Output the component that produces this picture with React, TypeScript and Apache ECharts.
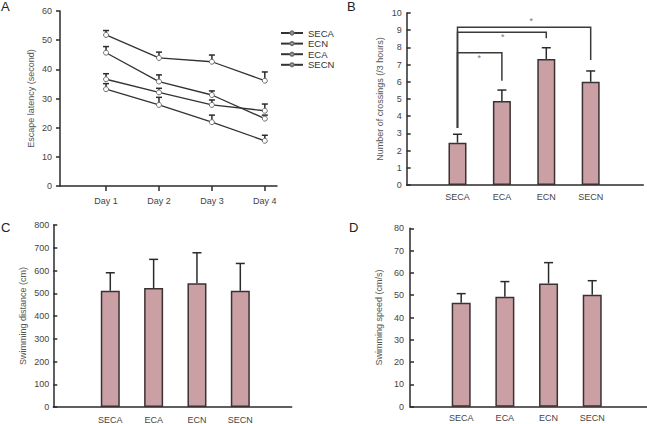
import React, { useEffect, useRef } from "react";
import * as echarts from "echarts";

// ---------- data ----------
const days = ["Day 1", "Day 2", "Day 3", "Day 4"];
const latencyGroups = ["SECA", "ECN", "ECA", "SECN"];
const latSECA = [51.8, 43.9, 42.6, 36.1];
const latSECAErr = [1.5, 2.0, 2.3, 3.0];
const latECN = [45.7, 35.8, 31.2, 23.1];
const latECNErr = [2.1, 2.3, 1.4, 1.2];
const latECA = [36.6, 32.1, 27.8, 25.8];
const latECAErr = [1.9, 1.4, 1.7, 2.3];
const latSECN = [33.2, 27.8, 21.9, 15.5];
const latSECNErr = [1.9, 2.6, 2.4, 1.9];

const groups = ["SECA", "ECA", "ECN", "SECN"];
const crossings = [2.46, 4.88, 7.33, 6.0];
const crossingsErr = [0.49, 0.64, 0.65, 0.63];
const distance = [511, 523, 544, 511];
const distanceErr = [79, 126, 134, 120];
const speed = [46.6, 49.3, 55.3, 50.2];
const speedErr = [4.1, 6.8, 9.3, 6.3];

// significance brackets in panel B (value units)
const bracketFrom = [1, 1, 1];
const bracketTo = [2, 3, 4];
const bracketLevel = [7.69, 8.88, 9.17];
const bracketDropEnd = [6.06, 8.53, 7.27];
const bracketStart = 3.31;
const starX = [1.49, 2.02, 2.66];
const starY = [7.4, 8.59, 9.53];

const FONT = "'Liberation Sans', Arial, Helvetica, sans-serif";
const AXIS_COLOR = "#2b2b2b";
const LABEL_COLOR = "#444";
const BAR_COLOR = "#cba0a5";

export default function App() {
  const ref = useRef<HTMLDivElement>(null);

  useEffect(() => {
    if (!ref.current) return;
    const chart = echarts.init(ref.current, undefined, { renderer: "svg" });

    const axisLine = { show: true, onZero: false, lineStyle: { color: AXIS_COLOR, width: 1.5 } };
    const tickLabel = { fontSize: 9, color: LABEL_COLOR, fontFamily: FONT };
    const nameStyle = { fontSize: 9, color: "#555", fontFamily: FONT };

    const yAxisBase = (grid: number, max: number, interval: number, name: string, gap: number, inside: boolean, margin: number) => ({
      gridIndex: grid,
      type: "value",
      min: 0,
      max,
      interval,
      axisLine,
      axisTick: { show: true, inside, length: 4, lineStyle: { color: AXIS_COLOR, width: 1.5 } },
      axisLabel: { ...tickLabel, margin },
      splitLine: { show: false },
      name,
      nameLocation: "middle",
      nameGap: gap,
      nameTextStyle: nameStyle,
    });

    const xAxisGroups = (grid: number, min: number, max: number, margin: number) => ({
      gridIndex: grid,
      type: "value",
      min,
      max,
      axisLine,
      axisTick: { show: false },
      splitLine: { show: false },
      axisLabel: {
        ...tickLabel,
        margin,
        customValues: [1, 2, 3, 4],
        formatter: (v: number) => groups[Math.round(v) - 1] ?? "",
      },
    });

    const errRender = (cap: number) => (params: any, api: any) => {
      const x = api.value(0);
      const v = api.value(1);
      const e = api.value(2);
      const p0 = api.coord([x, v]);
      const p1 = api.coord([x, v + e]);
      const st = { stroke: AXIS_COLOR, lineWidth: 1.5 };
      return {
        type: "group",
        children: [
          { type: "line", shape: { x1: p0[0], y1: p0[1], x2: p1[0], y2: p1[1] }, style: st },
          { type: "line", shape: { x1: p1[0] - cap, y1: p1[1], x2: p1[0] + cap, y2: p1[1] }, style: st },
        ],
      };
    };

    const latSeries = [latSECA, latECN, latECA, latSECN];
    const latErrs = [latSECAErr, latECNErr, latECAErr, latSECNErr];

    const lineSeries = latencyGroups.map((g, gi) => ({
      name: g,
      type: "line",
      xAxisIndex: 0,
      yAxisIndex: 0,
      data: latSeries[gi].map((v, i) => [i + 1, v]),
      symbol: "circle",
      symbolSize: 5,
      itemStyle: { color: "#fff", borderColor: "#6e6e6e", borderWidth: 1 },
      lineStyle: { color: "#333", width: 1.3 },
      z: 3,
    }));

    const latErrData: number[][] = [];
    latSeries.forEach((s, gi) => s.forEach((v, i) => latErrData.push([i + 1, v, latErrs[gi][i]])));

    const barSeries = (axis: number, vals: number[], errs: number[], width: number) => [
      {
        type: "bar",
        xAxisIndex: axis,
        yAxisIndex: axis,
        data: vals.map((v, i) => [i + 1, v]),
        barWidth: width,
        itemStyle: { color: BAR_COLOR, borderColor: "#3a3232", borderWidth: 1.5 },
        z: 2,
      },
      {
        type: "custom",
        xAxisIndex: axis,
        yAxisIndex: axis,
        data: vals.map((v, i) => [i + 1, v, errs[i]]),
        renderItem: errRender(4.5),
        z: 3,
      },
    ];

    const bracketData = bracketFrom.map((f, i) => [f, bracketTo[i], bracketLevel[i], bracketDropEnd[i]]);

    const option: any = {
      animation: false,
      textStyle: { fontFamily: FONT },
      grid: [
        { left: 60, top: 11, width: 217, height: 175 },
        { left: 406.7, top: 13, width: 236.6, height: 172 },
        { left: 53.3, top: 225, width: 238.4, height: 182.3 },
        { left: 410, top: 228.3, width: 236.7, height: 178.4 },
      ],
      xAxis: [
        {
          gridIndex: 0,
          type: "value",
          min: 0.13,
          max: 4.23,
          axisLine,
          splitLine: { show: false },
          axisTick: { show: true, length: 5, customValues: [1, 2, 3, 4], lineStyle: { color: AXIS_COLOR, width: 1.5 } },
          axisLabel: {
            ...tickLabel,
            margin: 10,
            customValues: [1, 2, 3, 4],
            formatter: (v: number) => days[Math.round(v) - 1] ?? "",
          },
        },
        xAxisGroups(1, -0.144, 5.185, 7),
        xAxisGroups(2, -0.315, 5.186, 8),
        xAxisGroups(3, -0.172, 5.247, 7),
      ],
      yAxis: [
        yAxisBase(0, 60, 10, "Escape latency (second)", 25, false, 8),
        yAxisBase(1, 10, 1, "Number of crossings (/3 hours)", 22, true, 5),
        yAxisBase(2, 800, 100, "Swimming distance (cm)", 26, true, 4),
        yAxisBase(3, 80, 10, "Swimming speed (cm/s)", 27, true, 6),
      ],
      legend: {
        data: latencyGroups,
        orient: "vertical",
        left: 275,
        top: 23,
        itemWidth: 22,
        itemHeight: 4,
        itemGap: 0.6,
        textStyle: { fontSize: 9.5, color: "#333", fontFamily: FONT },
        selectedMode: false,
      },
      graphic: [
        { type: "text", left: 1, top: 0, style: { text: "A", fontSize: 13, fill: "#222", fontFamily: FONT } },
        { type: "text", left: 347, top: 0, style: { text: "B", fontSize: 13, fill: "#222", fontFamily: FONT } },
        { type: "text", left: 1, top: 221, style: { text: "C", fontSize: 13, fill: "#222", fontFamily: FONT } },
        { type: "text", left: 349, top: 221, style: { text: "D", fontSize: 13, fill: "#222", fontFamily: FONT } },
      ],
      series: [
        ...lineSeries,
        {
          type: "custom",
          xAxisIndex: 0,
          yAxisIndex: 0,
          data: latErrData,
          renderItem: errRender(3),
          z: 2,
        },
        ...barSeries(1, crossings, crossingsErr, 18),
        ...barSeries(2, distance, distanceErr, 19),
        ...barSeries(3, speed, speedErr, 19),
        {
          type: "custom",
          xAxisIndex: 1,
          yAxisIndex: 1,
          data: bracketData,
          renderItem: (params: any, api: any) => {
            const f = api.value(0);
            const t = api.value(1);
            const lvl = api.value(2);
            const drop = api.value(3);
            const a = api.coord([f, bracketStart]);
            const b = api.coord([f, lvl]);
            const c = api.coord([t, lvl]);
            const d = api.coord([t, drop]);
            return {
              type: "polyline",
              shape: { points: [a, b, c, d] },
              style: { stroke: "#3a3a3a", lineWidth: 1.5, fill: "none" },
            };
          },
          z: 4,
        },
        {
          type: "custom",
          xAxisIndex: 1,
          yAxisIndex: 1,
          data: starX.map((x, i) => [x, starY[i]]),
          renderItem: (params: any, api: any) => {
            const p = api.coord([api.value(0), api.value(1)]);
            return {
              type: "text",
              x: p[0],
              y: p[1],
              style: { text: "*", fontSize: 9, fill: "#777", align: "center", verticalAlign: "middle", fontFamily: FONT },
            };
          },
          z: 4,
        },
      ],
    };

    chart.setOption(option);
    return () => chart.dispose();
  }, []);

  return <div ref={ref} style={{ width: 647, height: 424, position: "absolute", left: 0, top: 0 }} />;
}
